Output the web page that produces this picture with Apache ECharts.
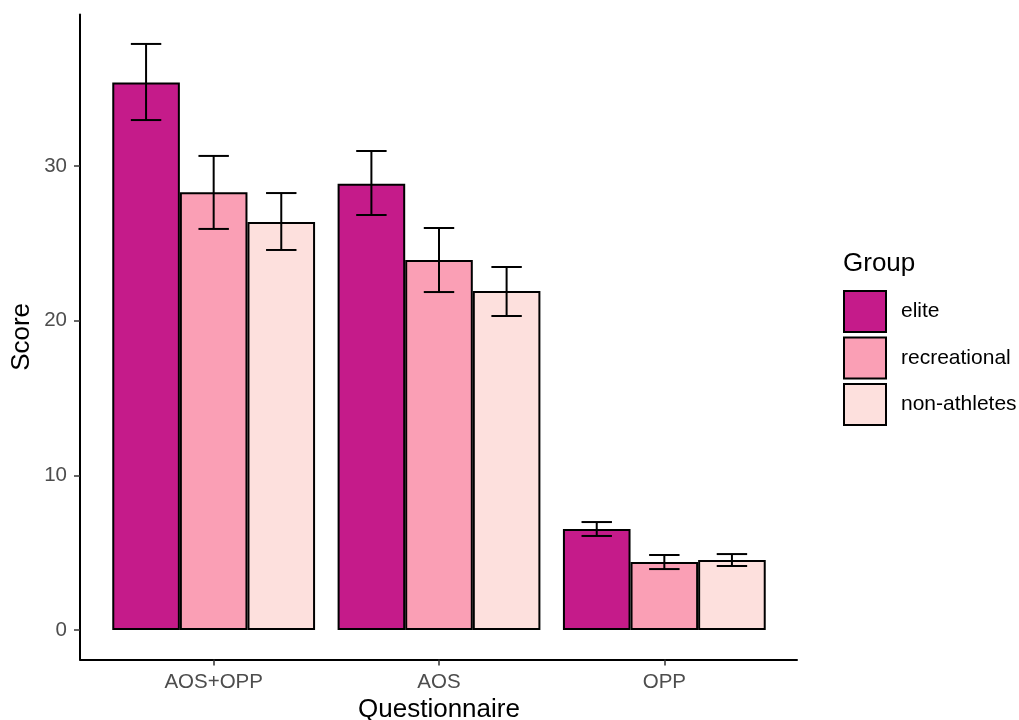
<!DOCTYPE html>
<html>
<head>
<meta charset="utf-8">
<script src="https://cdn.jsdelivr.net/npm/echarts@6/dist/echarts.min.js"></script>
<style>html,body{margin:0;padding:0;background:#fff;}#c{width:1019px;height:720px;}</style>
</head>
<body>
<div id="c"></div>
<script>
const categories = ['AOS+OPP', 'AOS', 'OPP'];
const groups = ['elite', 'recreational', 'non-athletes'];
const colors = ['#c51b8a', '#fa9fb5', '#fde0dd'];
const eliteMean = [35.4, 28.85, 6.53];
const eliteLow = [32.97, 26.83, 6.08];
const eliteHigh = [37.89, 30.97, 6.98];
const recMean = [28.3, 23.92, 4.40];
const recLow = [25.93, 21.85, 3.94];
const recHigh = [30.65, 25.99, 4.85];
const nonMean = [26.38, 21.92, 4.53];
const nonLow = [24.57, 20.30, 4.14];
const nonHigh = [28.25, 23.47, 4.91];
const yTicks = [0, 10, 20, 30];

const means = [eliteMean, recMean, nonMean];
const lows = [eliteLow, recLow, nonLow];
const highs = [eliteHigh, recHigh, nonHigh];

const yMin = -1.9, yMax = 39.8;
const gTop = 14.4, gBottom = 60.6;

const errData = [];
for (let g = 0; g < 3; g++) {
  for (let c = 0; c < categories.length; c++) {
    errData.push([c, g, lows[g][c], highs[g][c]]);
  }
}

const chart = echarts.init(document.getElementById('c'));
const tickColor = '#333';
const labelColor = '#4d4d4d';
const font = 'Liberation Sans, Arial, sans-serif';

const option = {
  backgroundColor: '#fff',
  animation: false,
  textStyle: { fontFamily: font },
  title: {
    text: 'Group', left: 843, top: 251, padding: 0,
    textStyle: { fontSize: 26, fontWeight: 'normal', color: '#000', fontFamily: font }
  },
  legend: {
    orient: 'vertical', left: 843, top: 290, padding: 0,
    itemWidth: 42, itemHeight: 41, itemGap: 3.5,
    icon: 'rect',
    data: groups,
    itemStyle: { borderColor: '#000', borderWidth: 2 },
    textStyle: { fontSize: 21, color: '#000', fontFamily: font, padding: [0, 0, 0, 10] }
  },
  grid: [
    { left: 80, right: 222, top: gTop, bottom: gBottom, outerBoundsMode: 'none', containLabel: false },
    { left: 101, right: 242, top: gTop, bottom: gBottom, outerBoundsMode: 'none', containLabel: false }
  ],
  xAxis: [
    {
      gridIndex: 0, type: 'value', min: 0, max: 1,
      axisLine: { show: true, onZero: false, lineStyle: { color: '#000', width: 2 } },
      axisTick: { show: false }, axisLabel: { show: false }, splitLine: { show: false }
    },
    {
      gridIndex: 1, type: 'category', data: categories,
      boundaryGap: true,
      axisLine: { show: false, onZero: false },
      axisTick: { show: true, alignWithLabel: true, length: 6, lineStyle: { color: tickColor, width: 1.5 } },
      axisLabel: { fontSize: 20.5, color: labelColor, margin: 12, fontFamily: font },
      name: 'Questionnaire', nameLocation: 'middle', nameGap: 37,
      nameTextStyle: { fontSize: 26, color: '#000', fontFamily: font },
      splitLine: { show: false }
    }
  ],
  yAxis: [
    {
      gridIndex: 0, type: 'value', min: yMin, max: yMax,
      axisLine: { show: true, onZero: false, lineStyle: { color: '#000', width: 2 } },
      axisTick: { show: true, length: 6, customValues: yTicks, lineStyle: { color: tickColor, width: 1.5 } },
      axisLabel: { fontSize: 20.5, color: labelColor, margin: 13, customValues: yTicks, fontFamily: font },
      splitLine: { show: false },
      name: 'Score', nameLocation: 'middle', nameGap: 45, nameRotate: 90, nameMoveOverlap: false,
      nameTextStyle: { fontSize: 26, color: '#000', fontFamily: font }
    },
    {
      gridIndex: 1, type: 'value', min: yMin, max: yMax, show: false
    }
  ],
  series: groups.map((g, i) => ({
    name: g, type: 'bar', xAxisIndex: 1, yAxisIndex: 1,
    data: means[i],
    barGap: '0%', barCategoryGap: '10%',
    itemStyle: { color: colors[i], borderColor: '#000', borderWidth: 2 },
    emphasis: { disabled: true }
  })).concat([{
    type: 'custom', xAxisIndex: 1, yAxisIndex: 1,
    data: errData,
    encode: { x: 0, y: [2, 3] },
    z: 10,
    renderItem: function (params, api) {
      const c = api.value(0), g = api.value(1);
      const lo = api.coord([c, api.value(2)]);
      const hi = api.coord([c, api.value(3)]);
      const band = api.size([1, 0])[0];
      const bw = band * 0.3;
      const x = lo[0] + (g - 1) * bw;
      const half = bw * 0.225;
      const st = { stroke: '#000', lineWidth: 2, fill: null };
      return {
        type: 'group',
        children: [
          { type: 'line', shape: { x1: x, y1: lo[1], x2: x, y2: hi[1] }, style: st },
          { type: 'line', shape: { x1: x - half, y1: lo[1], x2: x + half, y2: lo[1] }, style: st },
          { type: 'line', shape: { x1: x - half, y1: hi[1], x2: x + half, y2: hi[1] }, style: st }
        ]
      };
    }
  }])
};
chart.setOption(option);
</script>
</body>
</html>
